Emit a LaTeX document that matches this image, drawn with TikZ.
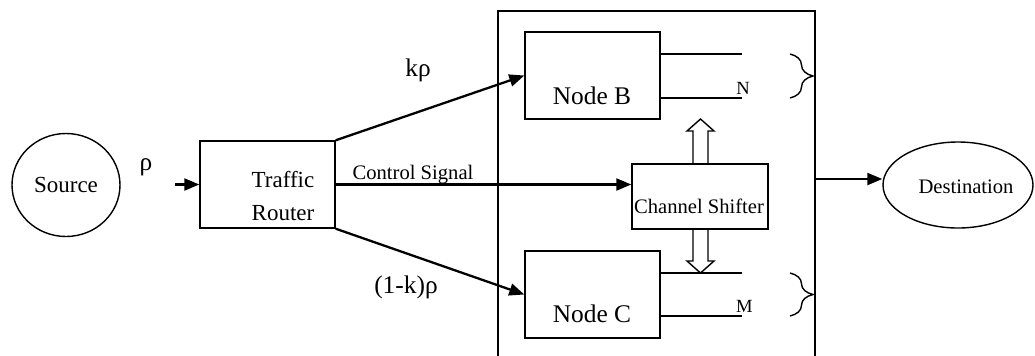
\documentclass[tikz,border=0pt]{standalone}
\usepackage{fontspec}
\setmainfont{Liberation Serif}
\usetikzlibrary{arrows.meta,decorations.pathreplacing,calc,shapes.geometric}
\begin{document}
\begin{tikzpicture}[x=0.5pt,y=-0.5pt,
  box/.style={draw,line width=0.7pt,inner sep=0pt,rectangle},
  arr/.style={line width=1.15pt,-{Triangle[length=7.5pt,width=6pt]}},
  thinline/.style={line width=0.7pt},
  lbl/.style={inner sep=0pt},
  fa/.style={font=\fontsize{11.5}{16.5}\selectfont},
  fb/.style={font=\fontsize{12.7}{15}\selectfont},
  fc/.style={font=\fontsize{10.3}{12}\selectfont},
  fd/.style={font=\fontsize{9.3}{11}\selectfont},
]
\useasboundingbox (0,0) rectangle (1035,355);
% source
\node[ellipse,draw,line width=0.7pt,minimum width=54pt,minimum height=51.5pt,inner sep=0pt,fa] (src) at (66,185) {Source};
\node[lbl,fb] (rho) at (146,167) {ρ};
\coordinate (in) at (175,184.5);
% router
\node[box,minimum width=67.5pt,minimum height=43.5pt] (R) at (267.5,184.5) {};
\node[lbl,fa,align=center] (Rt) at (283,196) {Traffic\\Router};
% system box
\path (498,11) coordinate (sysTL) (815,11) coordinate (sysTR) (498,356) coordinate (sysBL) (815,356) coordinate (sysBR);
\draw[thinline] (sysBL) -- (sysTL) -- (sysTR) -- (sysBR);
% node B
\node[box,minimum width=67.5pt,minimum height=43.5pt] (B) at (592.5,75.5) {};
\node[lbl,fb] (Bt) at (592,96) {Node B};
% node C
\node[box,minimum width=67.5pt,minimum height=43.5pt] (C) at (592.5,294.5) {};
\node[lbl,fb] (Ct) at (592,314) {Node C};
% channel shifter
\node[box,minimum width=68pt,minimum height=32.5pt] (CS) at (700,196.5) {};
\node[lbl,fc] (CSt) at (699,206) {Channel Shifter};
% lines out of B and C
\coordinate (b1) at (742,54); \coordinate (b2) at (742,98);
\coordinate (c1) at (742,273); \coordinate (c2) at (742,316);
\draw[thinline] (B.east |- b1) -- (b1);
\draw[thinline] (B.east |- b2) -- (b2);
\draw[thinline] (C.east |- c1) -- (c1);
\draw[thinline] (C.east |- c2) -- (c2);
\node[lbl,fd] (N) at (743,88) {N};
\node[lbl,fd] (M) at (744.5,306) {M};
% braces
\draw[thinline,decorate,decoration={brace,amplitude=11.5pt}] (790,54) -- (790,98);
\draw[thinline,decorate,decoration={brace,amplitude=11.5pt}] (790,273) -- (790,316);
% hollow arrows
\draw[thinline] (693,164) -- (693,131) -- (687,131) -- (700.5,119) -- (714,131) -- (708,131) -- (708,164);
\draw[thinline] (693,229) -- (693,261) -- (687,261) -- (700.5,273) -- (714,261) -- (708,261) -- (708,229);
% connectors
\draw[arr] (in) -- (R.west);
\draw[arr] (R.north east) -- (B.west);
\draw[arr] (R.south east) -- (C.west);
\draw[arr] (R.east) -- (R.east -| CS.west);
\node[lbl,fb] (krho) at (418,70) {kρ};
\node[lbl,fb] (kkrho) at (406,287) {(1-k)ρ};
\node[lbl,fc] (cs) at (413,175) {Control Signal};
% destination
\node[ellipse,draw,line width=0.7pt,minimum width=75pt,minimum height=43pt,inner sep=0pt,fc] (dst) at (958,185) {};
\node[lbl,fc] (dstt) at (966,187) {Destination};
\coordinate (out) at (815,179);
\draw[arr] (out) -- (dst.west |- out);
\end{tikzpicture}
\end{document}
